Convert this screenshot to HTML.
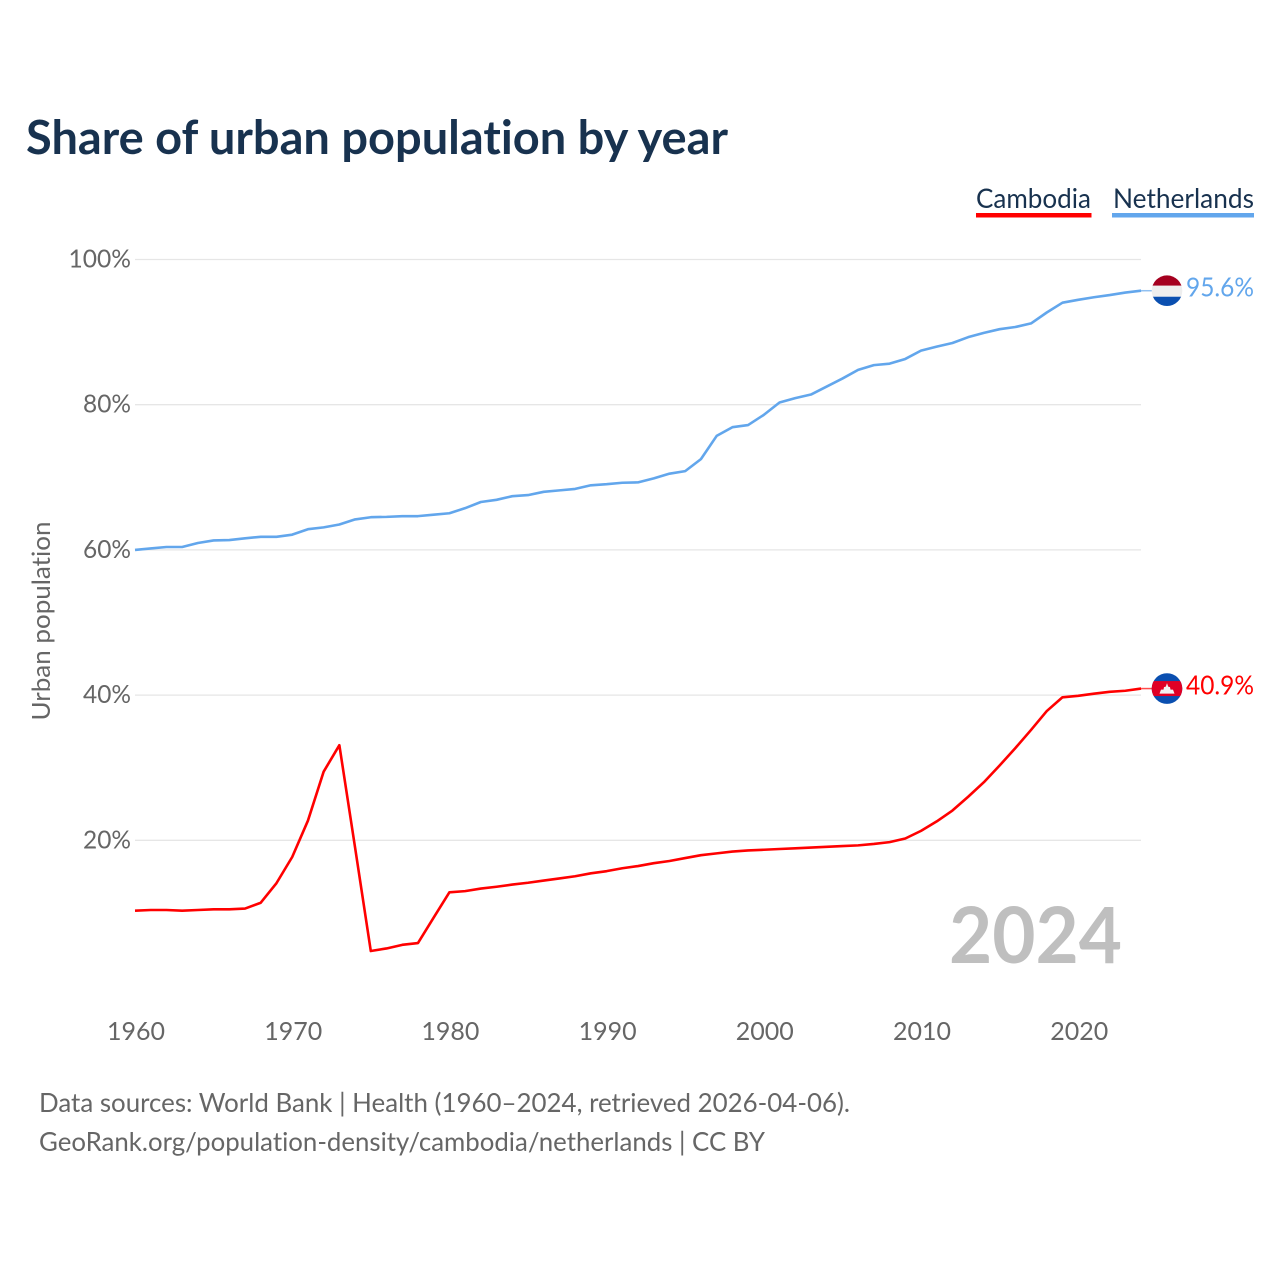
<!DOCTYPE html>
<html lang="en">
<head>
<meta charset="utf-8">
<title>Share of urban population by year</title>
<style>
html,body{margin:0;padding:0;background:#fff;width:1280px;height:1280px;overflow:hidden}
svg{display:block}
text{font-family:"Lato","Carlito","Liberation Sans",sans-serif;font-variant-ligatures:none}
</style>
</head>
<body>
<svg id="chart" xmlns="http://www.w3.org/2000/svg" width="1280" height="1280" viewBox="0 0 1280 1280">
<rect width="1280" height="1280" fill="#fff"/>
<defs>
<clipPath id="flag-clip-nl"><circle id="clip-nl" r="15.300"/></clipPath>
<clipPath id="flag-clip-kh"><circle id="clip-kh" r="15.300"/></clipPath>
</defs>
<text x="26" y="154" font-size="47" font-weight="700" fill="#18324f" textLength="702" lengthAdjust="spacingAndGlyphs">Share of urban population by year</text>
<g id="grid"></g>
<g id="y-ticks"></g>
<g id="x-ticks"></g>
<text transform="translate(50,621) rotate(-90)" text-anchor="middle" font-size="25" fill="#666" textLength="199" lengthAdjust="spacingAndGlyphs">Urban population</text>
<text x="1122" y="963" text-anchor="end" font-size="78" font-weight="700" fill="#bfbfbf" textLength="173" lengthAdjust="spacingAndGlyphs">2024</text>
<g id="series"></g>
<g>
<g>
<text x="976" y="208" font-size="27" fill="#18324f" textLength="115" lengthAdjust="spacingAndGlyphs">Cambodia</text>
<rect x="976" y="213" width="115.500" height="4.500" fill="#ff0000"/>
</g>
<g>
<text x="1113" y="208" font-size="27" fill="#18324f" textLength="141" lengthAdjust="spacingAndGlyphs">Netherlands</text>
<rect x="1112" y="213" width="142" height="4.500" fill="#62a6ec"/>
</g>
</g>
<g id="flag-nl"></g>
<g id="flag-kh"></g>
<text id="label-nl" x="1186" font-size="26" fill="#62a6ec" textLength="68" lengthAdjust="spacingAndGlyphs"></text>
<text id="label-kh" x="1186" font-size="26" fill="#ff0000" textLength="68" lengthAdjust="spacingAndGlyphs"></text>
<text x="39" y="1112" font-size="26" fill="#666" textLength="811" lengthAdjust="spacingAndGlyphs">Data sources: World Bank | Health (1960–2024, retrieved 2026-04-06).</text>
<text x="39" y="1151" font-size="26" fill="#666" textLength="726" lengthAdjust="spacingAndGlyphs">GeoRank.org/population-density/cambodia/netherlands | CC BY</text>
</svg>
<script>
const startYear = 1960;
const yTicks = [20, 40, 60, 80, 100];
const xTicks = [1960, 1970, 1980, 1990, 2000, 2010, 2020];
const netherlands = [60.0,60.2,60.4,60.4,60.95,61.3,61.35,61.6,61.8,61.8,62.1,62.85,63.1,63.5,64.2,64.5,64.55,64.65,64.65,64.85,65.05,65.75,66.6,66.9,67.4,67.55,68.0,68.2,68.4,68.9,69.05,69.25,69.3,69.85,70.5,70.85,72.5,75.7,76.9,77.2,78.6,80.3,80.9,81.4,82.5,83.6,84.8,85.45,85.65,86.3,87.45,88.0,88.5,89.3,89.9,90.4,90.7,91.2,92.7,94.05,94.45,94.8,95.1,95.45,95.7];
const cambodia = [10.3,10.4,10.4,10.3,10.4,10.5,10.5,10.6,11.4,14.1,17.7,22.7,29.45,33.1,19.0,4.75,5.1,5.6,5.85,9.35,12.83,13.0,13.35,13.6,13.9,14.15,14.45,14.75,15.05,15.45,15.75,16.15,16.45,16.85,17.15,17.55,17.95,18.2,18.45,18.6,18.7,18.8,18.9,19.0,19.1,19.2,19.3,19.5,19.75,20.25,21.3,22.6,24.1,26.0,28.0,30.3,32.7,35.2,37.8,39.7,39.9,40.2,40.45,40.6,40.9];
const netherlandsLabel = "95.6%";
const cambodiaLabel = "40.9%";

const NS = "http://www.w3.org/2000/svg";
const x = yr => 135 + (yr - startYear) * 15.72;
const y = v => 985.5 - v * 7.26;
function make(tag, parent, attrs) {
  const el = document.createElementNS(NS, tag);
  for (const k in attrs) el.setAttribute(k, attrs[k]);
  parent.appendChild(el);
  return el;
}
const grid = document.getElementById("grid");
const yG = document.getElementById("y-ticks");
const xG = document.getElementById("x-ticks");
yTicks.forEach(t => {
  const line = make("line", grid, {x1: 135, x2: 1141, y1: y(t), y2: y(t), stroke: "#e6e6e6", "stroke-width": 1.3});
  
  
  const s = t + "%";
  const lab = make("text", yG, {x: 131, y: y(t) + 8, "text-anchor": "end", "font-size": 25, fill: "#666", textLength: 19 + (s.length - 1) * 14.5, lengthAdjust: "spacingAndGlyphs"});
  
  
  lab.textContent = s;
});
xTicks.forEach(t => {
  const lab = make("text", xG, {x: x(t) + 1, y: 1040, "text-anchor": "middle", "font-size": 25, fill: "#666"});
  
  
  lab.textContent = t;
});
const seriesG = document.getElementById("series");
function drawLine(values, color, name) {
  const pts = values.map((v, i) => x(startYear + i).toFixed(2) + "," + y(v).toFixed(2)).join(" ");
  const pl = make("polyline", seriesG, {points: pts, fill: "none", stroke: color, "stroke-width": 2.6, "stroke-linejoin": "round"});
  
  
  const lastY = y(values[values.length - 1]);
  const lead = make("line", seriesG, {x1: x(startYear + values.length - 1), x2: 1152, y1: lastY, y2: lastY, stroke: color, "stroke-width": 1.5, opacity: 0.7});
  
  
}
drawLine(cambodia, "#ff0000", "cambodia-line");
drawLine(netherlands, "#62a6ec", "netherlands-line");

const cx = 1167;
const nlY = y(netherlands[netherlands.length - 1]);
const khY = y(cambodia[cambodia.length - 1]);
document.getElementById("clip-nl").setAttribute("cx", cx);
document.getElementById("clip-nl").setAttribute("cy", nlY);
document.getElementById("clip-kh").setAttribute("cx", cx);
document.getElementById("clip-kh").setAttribute("cy", khY);
const nl = document.getElementById("flag-nl");
nl.setAttribute("clip-path", "url(#flag-clip-nl)");
make("rect", nl, {x: cx - 16, y: nlY - 16, width: 32, height: 11, fill: "#a5001f"});
make("rect", nl, {x: cx - 16, y: nlY - 5, width: 32, height: 11, fill: "#eeeeee"});
make("rect", nl, {x: cx - 16, y: nlY + 6, width: 32, height: 10, fill: "#0a4fb0"});
const kh = document.getElementById("flag-kh");
kh.setAttribute("clip-path", "url(#flag-clip-kh)");
make("rect", kh, {x: cx - 16, y: khY - 16, width: 32, height: 32, fill: "#0a4fb0"});
make("rect", kh, {x: cx - 16, y: khY - 7.500, width: 32, height: 15, fill: "#e00025"});
make("path", kh, {d: `M${cx-7.500} ${khY+5}L${cx-6} ${khY+1}L${cx-3.500} ${khY+1}L${cx-3} ${khY-1.500}L${cx-1.200} ${khY-2}L${cx} ${khY-5.500}L${cx+1.200} ${khY-2}L${cx+3} ${khY-1.500}L${cx+3.500} ${khY+1}L${cx+6} ${khY+1}L${cx+7.500} ${khY+5}Z`, fill: "#f2f2f2"});

const lnl = document.getElementById("label-nl");
lnl.setAttribute("y", nlY + 6);
lnl.textContent = netherlandsLabel;
const lkh = document.getElementById("label-kh");
lkh.setAttribute("y", khY + 6);
lkh.textContent = cambodiaLabel;
</script>
</body>
</html>
